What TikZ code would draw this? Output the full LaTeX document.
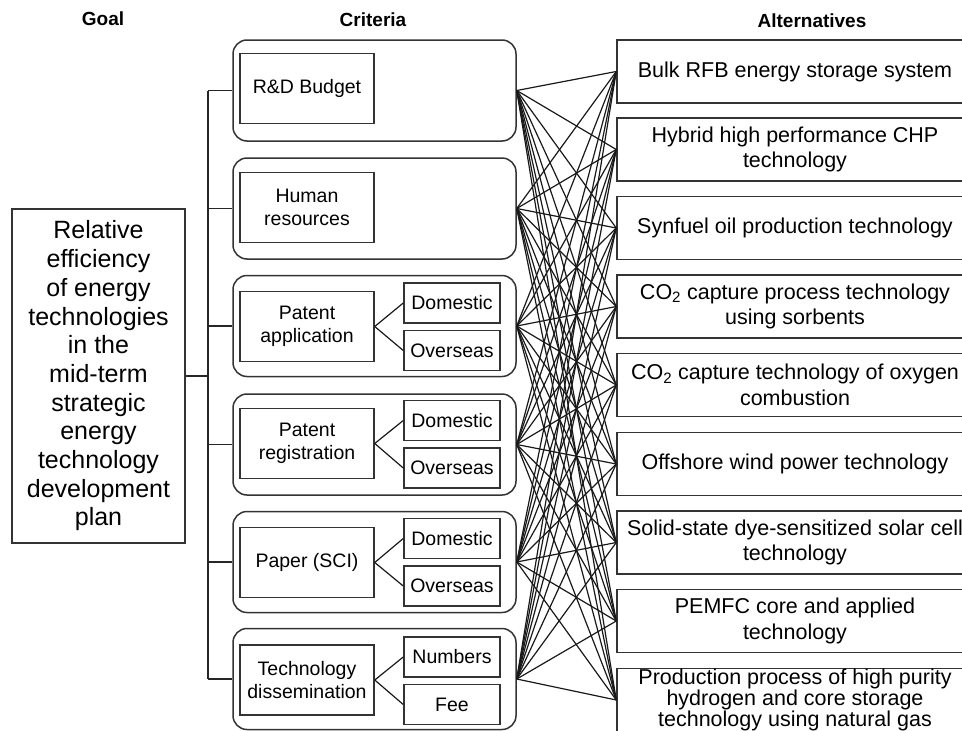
\documentclass[tikz,border=0pt]{standalone}
\usepackage{fontspec}
\setmainfont{Liberation Sans}
\usetikzlibrary{calc,positioning}
\tikzset{grp/.style={draw=black!80,line width=1.5pt,rounded corners=14pt,minimum width=283pt,minimum height=101pt,inner sep=0pt},
crit/.style={draw=black!80,line width=1.5pt,fill=white,align=center,minimum width=134pt,minimum height=70pt,inner sep=0pt,font=\fontsize{19.5}{23}\selectfont},
subcrit/.style={draw=black!80,line width=1.5pt,fill=white,minimum width=96pt,minimum height=40pt,inner sep=0pt,font=\fontsize{19.5}{23}\selectfont}}

\begin{document}
\begin{tikzpicture}[x=1pt,y=-1pt,hd/.style={font=\fontsize{19}{22}\selectfont\bfseries},alt/.style={draw=black!80,line width=1.5pt,fill=white,align=center,minimum width=356pt,minimum height=63pt,inner sep=0pt,font=\fontsize{21.5}{25.8}\selectfont},ln/.style={black!90,line width=1.2pt},br/.style={black!85,line width=1.6pt}]
	\useasboundingbox (0,0) rectangle (962,731);
	\clip (0,0) rectangle (962,731);
		\node[hd] (hg) at (103,19) {Goal};
		\node[hd] (hc) at (373,20) {Criteria};
		\node[hd] (ha) at (812,21) {Alternatives};

		\node[draw=black!80,line width=1.5pt,minimum width=173pt,minimum height=334pt,inner sep=0pt,align=center,font=\fontsize{25}{28.7}\selectfont] (g) at (98.5,376) {Relative\\efficiency\\of energy\\technologies\\in the\\mid-term\\strategic\\energy\\technology\\development\\plan};

		\node[grp] (c1) at (374.5,90.5) {};
		\node[grp] (c2) at (374.5,208.5) {};
		\node[grp] (c3) at (374.5,326) {};
		\node[grp] (c4) at (374.5,444.5) {};
		\node[grp] (c5) at (374.5,562) {};
		\node[grp] (c6) at (374.5,679) {};

		\node[crit] (m1) at (307,88.5) {R\&D Budget};
		\node[crit] (m2) at (307,207.5) {Human\\resources};
		\node[crit] (m3) at (307,326.5) {Patent\\application};
		\node[crit] (m4) at (307,443.5) {Patent\\registration};
		\node[crit] (m5) at (307,562.5) {Paper (SCI)};
		\node[crit] (m6) at (307,680) {Technology\\dissemination};

		\node[subcrit] (s3a) at (452,303) {Domestic};
		\node[subcrit] (s3b) at (452,350.5) {Overseas};
		\node[subcrit] (s4a) at (452,420.5) {Domestic};
		\node[subcrit] (s4b) at (452,468) {Overseas};
		\node[subcrit] (s5a) at (452,538.5) {Domestic};
		\node[subcrit] (s5b) at (452,586) {Overseas};
		\node[subcrit] (s6a) at (452,657) {Numbers};
		\node[subcrit] (s6b) at (452,704.5) {Fee};

		\node[alt] (a1) at (795,71.5) {Bulk RFB energy storage system};
		\node[alt] (a2) at (795,149.5) {Hybrid high performance CHP\\technology};
		\node[alt] (a3) at (795,228) {Synfuel oil production technology};
		\node[alt] (a4) at (795,306.5) {CO\textsubscript{2} capture process technology\\using sorbents};
		\node[alt] (a5) at (795,385) {CO\textsubscript{2} capture technology of oxygen\\combustion};
		\node[alt] (a6) at (795,464) {Offshore wind power technology};
		\node[alt] (a7) at (795,542.5) {Solid-state dye-sensitized solar cell\\technology};
		\node[alt] (a8) at (795,621) {PEMFC core and applied\\technology};
		\node[alt,font=\fontsize{21.5}{21}\selectfont] (a9) at (795,700) {Production process of high purity\\hydrogen and core storage\\technology using natural gas};

		\coordinate (sp) at (208,376);
		\draw[br] (g.east) -- (sp);
		\draw[br] (sp |- c1.west) -- (sp |- c6.west);
		\foreach \i in {1,...,6}
			\draw[br] (sp |- c\i.west) -- (c\i.west);

		\foreach \i in {3,...,6} {
			\draw[ln] (m\i.east) -- (s\i a.west);
			\draw[ln] (m\i.east) -- (s\i b.west);
		}

		\foreach \i in {1,...,6}
			\foreach \j in {1,...,9}
				\draw[ln] (c\i.east) -- (a\j.west);
	\end{tikzpicture}
\end{document}
